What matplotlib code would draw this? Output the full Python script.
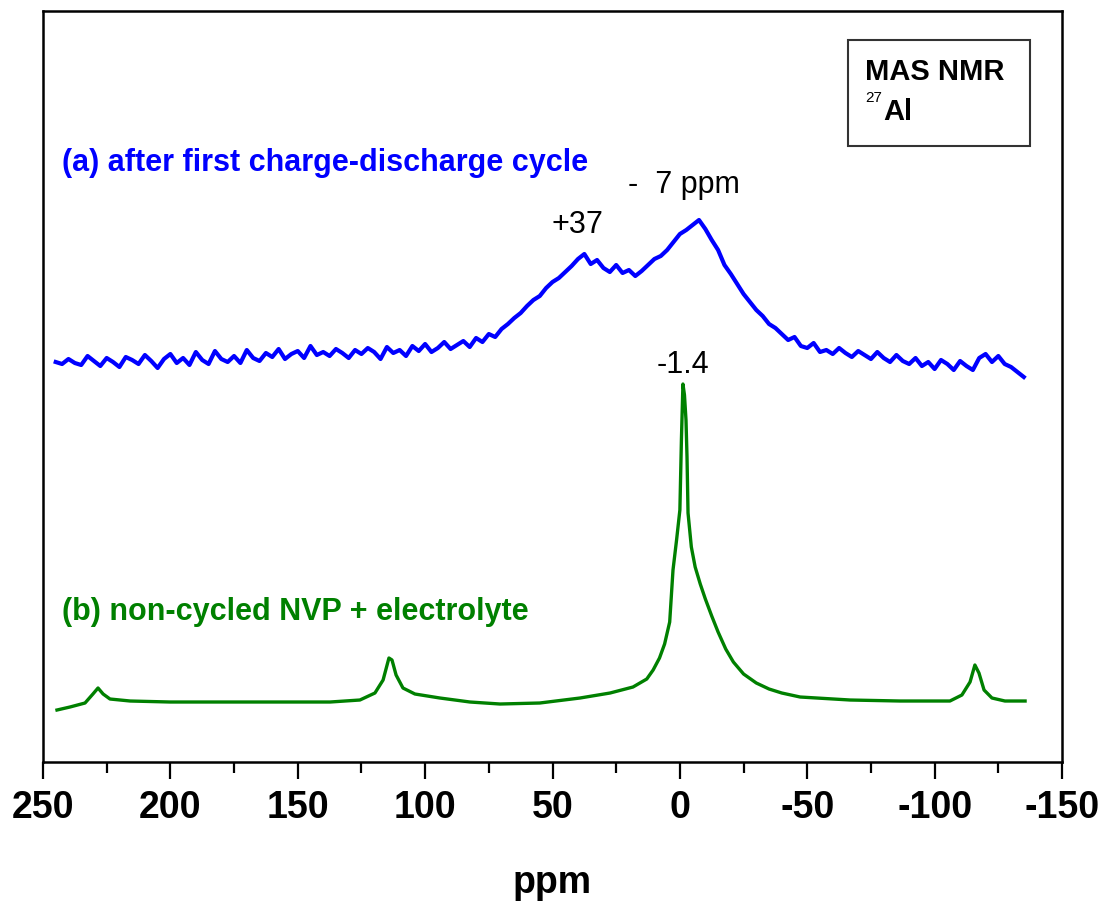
import matplotlib.pyplot as plt
import numpy as np

plt.rcParams['font.family'] = ['Liberation Sans', 'DejaVu Sans']

# (a) after first charge-discharge cycle (arb. units)
ppm_a = np.arange(245, -135.1, -2.5)
int_a = [400, 398, 403, 399, 397, 406, 401, 396, 404, 400,
         395, 405, 402, 398, 407, 401, 394, 403, 408, 399,
         404, 397, 410, 402, 398, 411, 403, 400, 406, 399,
         412, 404, 401, 409, 405, 413, 403, 408, 411, 404,
         416, 407, 410, 406, 413, 409, 404, 412, 408, 414,
         410, 403, 415, 409, 412, 406, 416, 411, 418, 410,
         414, 420, 413, 417, 421, 415, 424, 420, 428, 425,
         433, 438, 444, 449, 456, 462, 466, 474, 480, 484,
         490, 496, 503, 508, 498, 502, 494, 490, 497, 489,
         492, 486, 491, 497, 503, 506, 512, 520, 528, 532,
         537, 542, 533, 522, 512, 497, 488, 478, 468, 460,
         452, 446, 438, 434, 428, 422, 425, 416, 414, 419,
         410, 412, 408, 414, 409, 405, 411, 407, 403, 410,
         404, 400, 407, 401, 398, 404, 396, 400, 393, 402,
         398, 392, 401, 396, 392, 404, 408, 400, 406, 398,
         395, 390, 385]

# (b) non-cycled NVP + electrolyte
ppm_b = [244.5, 239.4, 233.5, 230.4, 228.4, 226.4, 223.7, 215.8, 200.1, 168.7,
         137.3, 125.6, 119.7, 116.5, 114.2, 113.0, 111.4, 108.7, 104.0, 94.2,
         82.4, 70.6, 55.0, 39.2, 27.4, 18.4, 13.0, 10.5, 8.0, 6.0,
         4.0, 2.7, 1.3, 0.0, -0.6, -1.2, -1.8, -2.4, -2.8, -3.2,
         -4.5, -6.0, -8.0, -10.0, -12.5, -15.0, -18.0, -21.0, -25.0, -30.0,
         -35.0, -40.0, -47.2, -66.8, -86.4, -106.0, -110.7, -113.9, -115.8, -117.4,
         -119.4, -122.5, -127.6, -135.5]
int_b = [52, 55, 59, 68, 74, 68, 63, 61, 60, 60,
         60, 62, 69, 82, 104, 102, 87, 74, 68, 64,
         60, 58, 59, 64, 69, 75, 83, 92, 104, 118,
         140, 192, 222, 252, 322, 378, 367, 342, 305, 249,
         215, 195, 178, 163, 146, 130, 113, 100, 88, 79,
         73, 69, 65, 62, 61, 61, 67, 80, 97, 89,
         72, 64, 61, 61]

xticks = [250, 200, 150, 100, 50, 0, -50, -100, -150]

fig = plt.figure(figsize=(11.05, 9.02), dpi=100)
ax = fig.add_axes([0.0389, 0.1552, 0.9222, 0.8326])

ax.plot(ppm_a, int_a, color='#0000ff', lw=3)
ax.plot(ppm_b, int_b, color='#008000', lw=2.4)

ax.set_xlim(250, -150)
ax.set_ylim(0, 751)
ax.set_xticks(xticks)
ax.set_xticks(np.arange(225, -150, -50), minor=True)
ax.set_xticklabels([str(t) for t in xticks], fontsize=27, fontweight='bold')
ax.set_yticks([])
ax.tick_params(axis='x', which='major', length=12, width=1.6, direction='out', pad=8)
ax.tick_params(axis='x', which='minor', length=8, width=1.6, direction='out')
for s in ax.spines.values():
    s.set_linewidth(1.8)
ax.set_xlabel('ppm', fontsize=27, fontweight='bold', labelpad=28)

ax.text(242.5, 599, '(a) after first charge-discharge cycle', color='#0000ff',
        fontsize=22, fontweight='bold', ha='left', va='center')
ax.text(242.5, 150, '(b) non-cycled NVP + electrolyte', color='#008000',
        fontsize=22, fontweight='bold', ha='left', va='center')
ax.text(40.4, 537, '+37', fontsize=22, ha='center', va='center')
ax.text(-1.5, 577, '-  7 ppm', fontsize=22, ha='center', va='center')
ax.text(-1.2, 397, '-1.4', fontsize=22, ha='center', va='center')

box = plt.Rectangle((0.790, 0.8202), 0.1786, 0.1412, transform=ax.transAxes,
                    fill=False, edgecolor='#333333', lw=1.5)
ax.add_patch(box)
ax.text(0.8067, 0.9188, 'MAS NMR', transform=ax.transAxes, fontsize=21,
        fontweight='bold', ha='left', va='center')
ax.text(0.8067, 0.884, '27', transform=ax.transAxes, fontsize=11,
        ha='left', va='center')
ax.text(0.8245, 0.866, 'Al', transform=ax.transAxes, fontsize=21,
        fontweight='bold', ha='left', va='center')

fig.savefig('out.png', dpi=100)
